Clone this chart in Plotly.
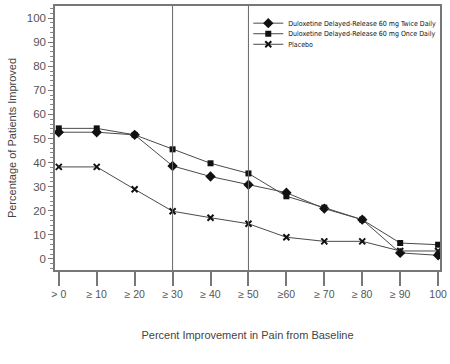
import plotly.graph_objects as go

categories = ["> 0", "≥ 10", "≥ 20", "≥ 30", "≥ 40", "≥ 50", "≥60", "≥ 70", "≥ 80", "≥ 90", "100"]
twice_daily = [52.6, 52.6, 51.5, 38.6, 34.2, 30.8, 27.5, 20.9, 16.3, 2.5, 1.5]
once_daily = [54.2, 54.2, 51.5, 45.5, 39.7, 35.5, 26.0, 21.3, 16.3, 6.6, 5.9]
placebo = [38.2, 38.2, 28.9, 19.8, 17.1, 14.6, 9.0, 7.3, 7.3, 3.3, 3.3]
ref_lines = ["≥ 30", "≥ 50"]

xs = list(range(len(categories)))
line_col = "#4a4a4a"
font_main = "Liberation Sans, Arial, sans-serif"
font_legend = "DejaVu Sans Condensed, Liberation Sans, sans-serif"

fig = go.Figure()
series = [
    ("Duloxetine Delayed-Release 60 mg Twice Daily", twice_daily, "diamond", 8, "legend"),
    ("Duloxetine Delayed-Release 60 mg Once Daily", once_daily, "square", 6, "legend2"),
    ("Placebo", placebo, "x-thin", 6, "legend3"),
]
for name, vals, sym, sz, lg in series:
    fig.add_trace(go.Scatter(
        x=xs, y=vals, name=name, mode="lines+markers", legend=lg,
        line=dict(color=line_col, width=1),
        marker=dict(symbol=sym, size=sz, color="#111111",
                    line=dict(color="#111111", width=2 if sym == "x-thin" else 0)),
    ))

for c in ref_lines:
    fig.add_vline(x=categories.index(c), line=dict(color="#666666", width=1))

leg_common = dict(x=0.502, xanchor="left", yanchor="middle", bgcolor="rgba(0,0,0,0)",
                  font=dict(size=7, family=font_legend, color="#111111"),
                  itemwidth=30, borderwidth=0)
fig.update_layout(
    width=450, height=364,
    margin=dict(l=55, r=10, t=6, b=94, autoexpand=False),
    paper_bgcolor="white", plot_bgcolor="white",
    font=dict(family=font_main, color="#444444", size=11),
    showlegend=True,
    legend=dict(y=0.935, **leg_common),
    legend2=dict(y=0.895, **leg_common),
    legend3=dict(y=0.855, **leg_common),
)
fig.update_xaxes(
    range=[-0.1, 10.05], tickvals=xs, ticktext=categories, automargin=False,
    showline=True, linecolor="#777777", linewidth=1.5, mirror=True,
    ticks="outside", ticklen=14, tickcolor="#777777", tickwidth=1.5,
    showgrid=False, zeroline=False,
    title=dict(text="Percent Improvement in Pain from Baseline", standoff=32,
               font=dict(size=11, color="#444444")),
    tickfont=dict(size=10.5, color="#555555"),
)
fig.update_yaxes(
    range=[-4.6, 105], tickvals=list(range(0, 101, 10)), automargin=False,
    showline=True, linecolor="#777777", linewidth=1.5, mirror=True,
    ticks="outside", ticklen=5, tickcolor="#777777",
    minor=dict(dtick=2, ticks="outside", ticklen=3, tickcolor="#888888"),
    showgrid=False, zeroline=False,
    title=dict(text="Percentage of Patients Improved", standoff=8,
               font=dict(size=11, color="#444444")),
    tickfont=dict(size=11.5, color="#555555"),
)

fig.write_html("out.html", config={"displayModeBar": False},
               post_script="document.body.style.margin='0';")
